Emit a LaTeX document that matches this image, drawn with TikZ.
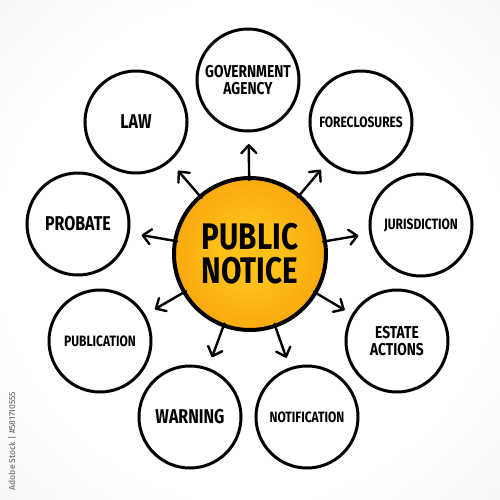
\documentclass[tikz,border=0pt]{standalone}
\usepackage{fontspec}
\setmainfont{Fira Sans}[FakeStretch=0.8]
\newfontfamily\idfont{Fira Sans}
\usetikzlibrary{arrows.meta,calc}
\definecolor{orin}{RGB}{255,192,24}
\definecolor{orout}{RGB}{241,140,0}
\definecolor{bgedge}{RGB}{224,224,224}
\pgfdeclareradialshading{orangeball}{\pgfpoint{0bp}{0bp}}{color(0bp)=(orin); color(10bp)=(orin); color(45bp)=(orout); color(51bp)=(orout)}
\pgfdeclareradialshading{bgshade}{\pgfpoint{0bp}{0bp}}{color(0bp)=(white); color(25bp)=(white); color(71bp)=(bgedge)}
\begin{document}
\begin{tikzpicture}[x=0.5pt,y=-0.5pt,
  topic/.style={circle,draw=black,line width=1.5pt,fill=white,minimum size=51pt,inner sep=0pt,align=center,font=\bfseries\fontsize{7.5}{8.5}\selectfont},
  big/.style={font=\bfseries\fontsize{10}{10}\selectfont},
  mid/.style={font=\bfseries\fontsize{8.6}{8.6}\selectfont},
  hub/.style={circle,draw=black,line width=2pt,shading=orangeball,minimum size=76pt,inner sep=0pt,align=center,font=\bfseries\fontsize{18.5}{17}\selectfont},
  arr/.style={line width=1.2pt,line cap=round,-{Straight Barb[length=4pt,width=7.5pt,round]}}]
\path[shading=bgshade] (0,0) rectangle (500,500);
\useasboundingbox (0,0) rectangle (500,500);
\node[hub] (c) at (250,254) {PUBLIC\\NOTICE};
\node[topic,mid] (gov) at (248,80) {GOVERNMENT\\AGENCY};
\node[topic,big] (law) at (136,122) {LAW};
\node[topic] (fore) at (361,122) {FORECLOSURES};
\node[topic,big] (prob) at (78,224) {PROBATE};
\node[topic] (juris) at (421,225) {JURISDICTION};
\node[topic] (publ) at (100,341) {PUBLICATION};
\node[topic,mid] (est) at (397,341) {ESTATE\\ACTIONS};
\node[topic,big] (warn) at (190,417) {WARNING};
\node[topic] (noti) at (307,417) {NOTIFICATION};
\foreach \t in {gov,law,fore,prob,juris,publ,est,warn,noti}
  \draw[arr] ($(c.center)!37pt!(\t.center)$) -- ($(c.center)!55pt!(\t.center)$);
\node[rotate=90,font=\idfont\fontsize{4.3}{5}\selectfont,text=black!65,inner sep=0pt] (id) at (12,441) {Adobe Stock | \#581710555};
\end{tikzpicture}
\end{document}
